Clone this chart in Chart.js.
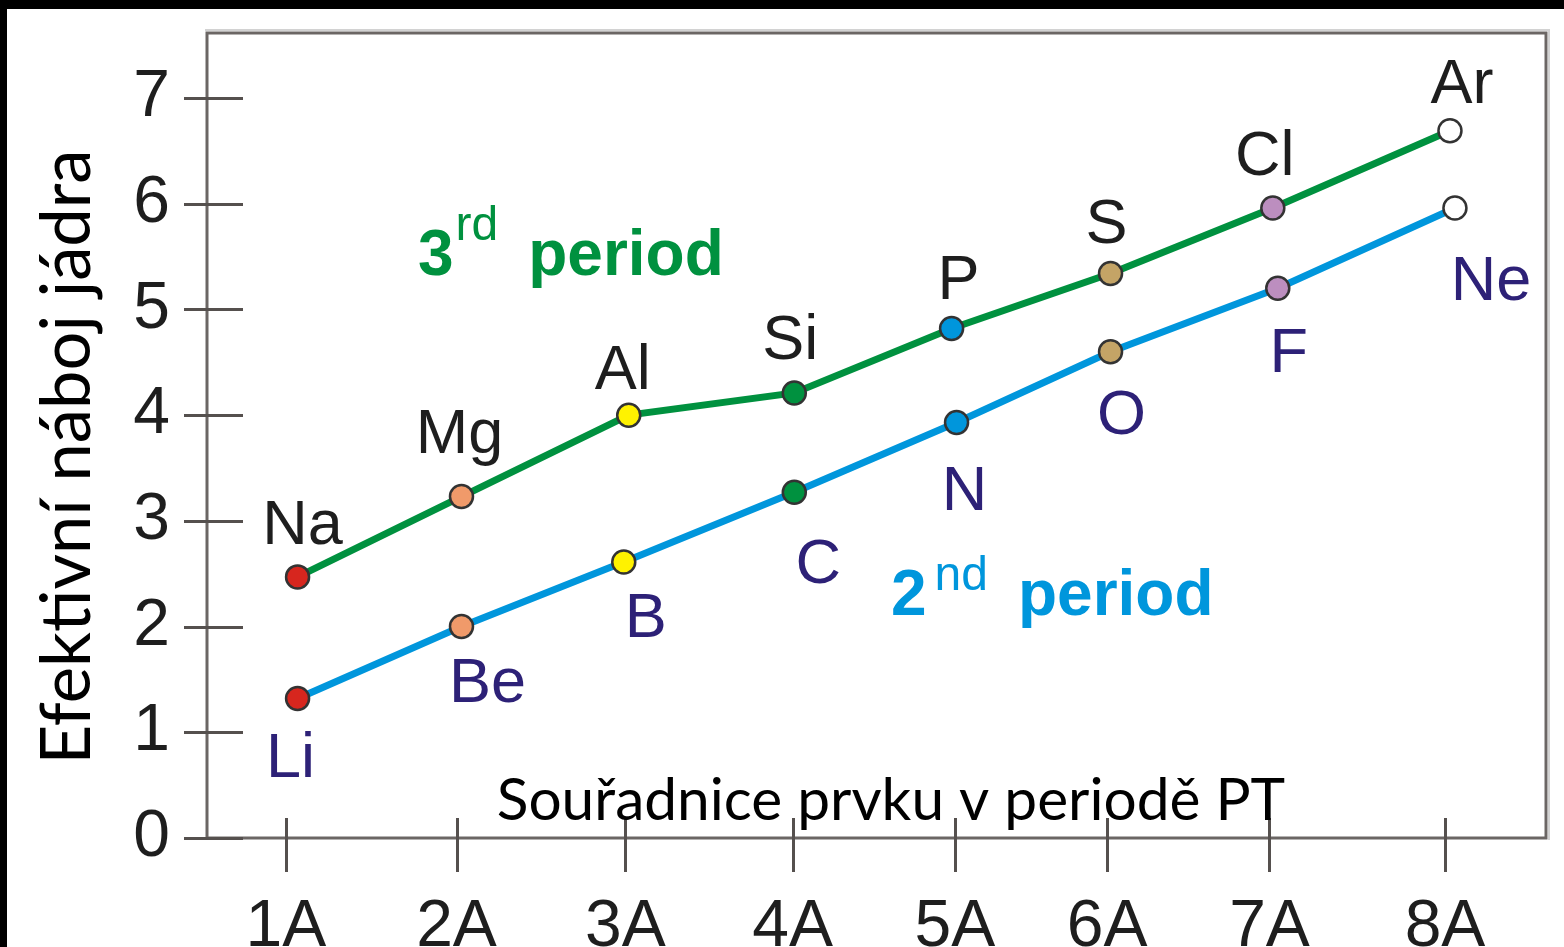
<!DOCTYPE html>
<html>
<head>
<meta charset="utf-8">
<script src="https://cdn.jsdelivr.net/npm/chart.js@4.4.1/dist/chart.umd.min.js"></script>
<style>
  html, body { margin: 0; padding: 0; background: #fff; }
  #wrap { width: 1564px; height: 947px; }
</style>
</head>
<body>
<div id="wrap"><canvas id="chart" width="1564" height="947"></canvas></div>
<script>
// skupiny v periodě (osa x)
const groupLabels = ['1A', '2A', '3A', '4A', '5A', '6A', '7A', '8A'];
const groupPos = [1, 2.03, 3.05, 4.06, 5.04, 5.96, 6.94, 8];
const yTickValues = [0, 1, 2, 3, 4, 5, 6, 7];

// 3. perioda
const period3Elements = ['Na', 'Mg', 'Al', 'Si', 'P', 'S', 'Cl', 'Ar'];
const period3X = [1.07, 2.06, 3.07, 4.07, 5.02, 5.98, 6.96, 8.03];
const period3Zeff = [2.47, 3.23, 4.00, 4.21, 4.82, 5.34, 5.96, 6.69];

// 2. perioda
const period2Elements = ['Li', 'Be', 'B', 'C', 'N', 'O', 'F', 'Ne'];
const period2X = [1.07, 2.06, 3.04, 4.07, 5.05, 5.98, 6.99, 8.06];
const period2Zeff = [1.32, 2.00, 2.61, 3.27, 3.93, 4.60, 5.20, 5.96];

const yTitle = 'Efektivní náboj jádra';
const xTitle = 'Souřadnice prvku v periodě PT';

// barvy bodů podle skupiny
const groupColors = ['#d7261e', '#f09a6a', '#fff200', '#00913f', '#0096dc', '#c4a466', '#bc8ebf', '#ffffff'];
const GREEN = '#00913f';
const BLUE = '#0096dc';
const NAVY = '#2d2177';

// posuny popisků prvků vůči bodu (px)
const label3Dx = [5, -2, -6, -4, 7, -4, -8, 12];
const label3Dy = [-33, -44, -26, -34, -29, -30, -33, -28];
const label2Dx = [-7, 26, 22, 24, 8, 11, 11, 36];
const label2Dy = [79, 75, 75, 91, 87, 82, 84, 92];

const toPoints = (xs, ys) => xs.map((x, i) => ({ x: x, y: ys[i] }));

const frameAndTicks = {
  id: 'frameAndTicks',
  beforeDraw(chart) {
    const ctx = chart.ctx;
    ctx.save();
    ctx.fillStyle = '#fff';
    ctx.fillRect(0, 0, chart.width, chart.height);
    ctx.restore();
  },
  beforeDatasetsDraw(chart) {
    const { ctx, chartArea: a, scales } = chart;
    ctx.save();
    // rámeček grafu
    ctx.strokeStyle = '#d2d2d2';
    ctx.lineWidth = 2;
    ctx.beginPath();
    ctx.moveTo(a.left - 2, a.top - 3);
    ctx.lineTo(a.right + 3, a.top - 3);
    ctx.lineTo(a.right + 3, a.bottom + 2);
    ctx.stroke();
    ctx.strokeStyle = '#6b6664';
    ctx.lineWidth = 3;
    ctx.strokeRect(a.left, a.top, a.right - a.left, a.bottom - a.top);
    // značky osy y
    ctx.strokeStyle = '#55504e';
    ctx.lineWidth = 3;
    scales.y.ticks.forEach(t => {
      const py = Math.round(scales.y.getPixelForValue(t.value)) + 0.5;
      ctx.beginPath();
      ctx.moveTo(a.left - 23, py);
      ctx.lineTo(a.left + 36, py);
      ctx.stroke();
    });
    // značky osy x
    scales.x.ticks.forEach(t => {
      const px = Math.round(scales.x.getPixelForValue(t.value)) + 0.5;
      ctx.beginPath();
      ctx.moveTo(px, a.bottom - 20);
      ctx.lineTo(px, a.bottom + 34);
      ctx.stroke();
    });
    ctx.restore();
  },
  afterDatasetsDraw(chart) {
    const { ctx, scales } = chart;
    ctx.save();
    ctx.textAlign = 'center';
    ctx.textBaseline = 'alphabetic';
    ctx.font = '63px "Liberation Sans", Arial, sans-serif';
    const m3 = chart.getDatasetMeta(0).data;
    ctx.fillStyle = '#1e1e1e';
    m3.forEach((p, i) => ctx.fillText(period3Elements[i], p.x + label3Dx[i], p.y + label3Dy[i]));
    const m2 = chart.getDatasetMeta(1).data;
    ctx.fillStyle = NAVY;
    m2.forEach((p, i) => ctx.fillText(period2Elements[i], p.x + label2Dx[i], p.y + label2Dy[i]));

    // nápisy period
    const drawPeriod = (base, sup, word, x, y, rise, gap, color) => {
      let px = scales.x.getPixelForValue(x);
      const py = scales.y.getPixelForValue(y);
      ctx.textAlign = 'left';
      ctx.fillStyle = color;
      ctx.font = 'bold 64px "Liberation Sans", Arial, sans-serif';
      ctx.fillText(base, px, py);
      px += ctx.measureText(base).width + gap;
      ctx.font = '48px "Liberation Sans", Arial, sans-serif';
      ctx.fillText(sup, px, py - rise);
      px += ctx.measureText(sup).width + 30;
      ctx.font = 'bold 64px "Liberation Sans", Arial, sans-serif';
      ctx.fillText(word, px, py);
    };
    drawPeriod('3', 'rd', 'period', 1.797, 5.326, 35, 2, GREEN);
    drawPeriod('2', 'nd', 'period', 4.654, 2.11, 25, 8, BLUE);

    // popisky os
    const fitFont = (text, width) => {
      ctx.font = '100px Lato, "Open Sans", sans-serif';
      const s = 100 * width / ctx.measureText(text).width;
      return s.toFixed(1) + 'px Lato, "Open Sans", sans-serif';
    };
    ctx.fillStyle = '#000';
    ctx.textAlign = 'center';
    ctx.font = fitFont(xTitle, 788);
    ctx.fillText(xTitle, 891, 820);
    ctx.save();
    ctx.translate(90, 457);
    ctx.rotate(-Math.PI / 2);
    ctx.font = fitFont(yTitle, 615);
    ctx.fillText(yTitle, 0, 0);
    ctx.restore();
    ctx.restore();
  },
  afterDraw(chart) {
    const ctx = chart.ctx;
    ctx.save();
    ctx.fillStyle = '#000';
    ctx.fillRect(0, 0, chart.width, 9);
    ctx.fillRect(0, 0, 7, chart.height);
    ctx.restore();
  }
};

const lineDataset = (label, xs, ys, color) => ({
  label: label,
  data: toPoints(xs, ys),
  borderColor: color,
  borderWidth: 7,
  pointRadius: 11.5,
  pointHoverRadius: 11.5,
  pointBorderWidth: 2.5,
  pointBorderColor: '#333',
  pointBackgroundColor: groupColors,
  tension: 0,
  fill: false
});

new Chart(document.getElementById('chart'), {
  type: 'line',
  data: {
    datasets: [
      lineDataset('3rd period', period3X, period3Zeff, GREEN),
      lineDataset('2nd period', period2X, period2Zeff, BLUE)
    ]
  },
  options: {
    responsive: false,
    animation: false,
    devicePixelRatio: 1,
    layout: { padding: { top: 33, right: 18, left: 0, bottom: 0 } },
    plugins: { legend: { display: false }, tooltip: { enabled: false } },
    scales: {
      x: {
        type: 'linear',
        min: 0.523,
        max: 8.61,
        afterBuildTicks: s => { s.ticks = groupPos.map(v => ({ value: v })); },
        afterFit: s => { s.height = 109; s.paddingLeft = 0; s.paddingRight = 0; },
        grid: { display: false, drawTicks: false },
        border: { display: false },
        ticks: {
          autoSkip: false,
          maxRotation: 0,
          padding: 50,
          color: '#1e1e1e',
          font: { family: '"Liberation Sans", Arial, sans-serif', size: 66 },
          callback: (v, i) => groupLabels[i]
        }
      },
      y: {
        type: 'linear',
        min: 0,
        max: 7.615,
        afterBuildTicks: s => { s.ticks = yTickValues.map(v => ({ value: v })); },
        afterFit: s => { s.width = 207; s.paddingTop = 0; s.paddingBottom = 0; },
        grid: { display: false, drawTicks: false },
        border: { display: false },
        ticks: {
          padding: 37,
          color: '#1e1e1e',
          font: { family: '"Liberation Sans", Arial, sans-serif', size: 66 },
          callback: v => String(v)
        }
      }
    }
  },
  plugins: [frameAndTicks]
});
</script>
</body>
</html>
